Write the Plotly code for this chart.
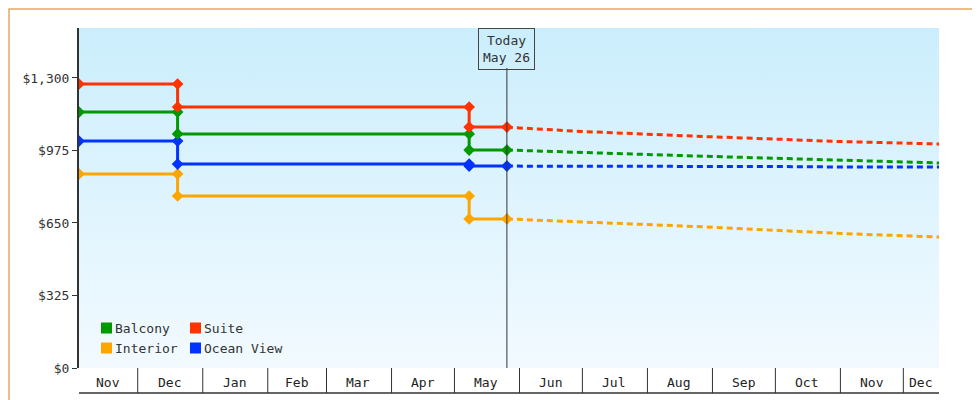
import plotly.graph_objects as go
import datetime as dt

names = ["Balcony", "Suite", "Interior", "Ocean View"]
colors = {"Balcony": "#009900", "Suite": "#ff3300", "Interior": "#ffa500", "Ocean View": "#0033ff"}

hist_dates = ["2024-11-03", "2024-12-20", "2024-12-20", "2025-05-08", "2025-05-08", "2025-05-26"]
hist_vals = {
    "Suite":      [1273, 1273, 1170, 1170, 1080, 1080],
    "Balcony":    [1147, 1147, 1049, 1049, 977, 977],
    "Ocean View": [1017, 1017, 914, 914, 905, 905],
    "Interior":   [870, 870, 771, 771, 668, 668],
}
fc_dates = ["2025-05-26", "2025-06-01", "2025-07-01", "2025-08-01", "2025-09-01", "2025-10-01", "2025-11-01", "2025-12-18"]
fc_vals = {
    "Suite":      [1080, 1076, 1060, 1047, 1036, 1026, 1015, 1004],
    "Balcony":    [977, 975, 966, 957, 948, 940, 930, 919],
    "Ocean View": [905, 905, 904, 904, 904, 903, 901, 901],
    "Interior":   [668, 666, 655, 643, 631, 618, 603, 587],
}
months = ["Nov", "Dec", "Jan", "Feb", "Mar", "Apr", "May", "Jun", "Jul", "Aug", "Sep", "Oct", "Nov", "Dec"]
month_starts = ["2024-11-03", "2024-12-01", "2025-01-01", "2025-02-01", "2025-03-01", "2025-04-01", "2025-05-01",
                "2025-06-01", "2025-07-01", "2025-08-01", "2025-09-01", "2025-10-01", "2025-11-01", "2025-12-01", "2025-12-18"]
yticks = [0, 325, 650, 975, 1300]
ytext = ["$0", "$325", "$650", "$975", "$1,300"]
today = "2025-05-26"

fig = go.Figure()
for n in ["Interior", "Ocean View", "Balcony", "Suite"]:
    fig.add_trace(go.Scatter(x=fc_dates, y=fc_vals[n], mode="lines", line=dict(color=colors[n], width=3, dash="6px,4px"),
                             showlegend=False, hoverinfo="skip"))
    fig.add_trace(go.Scatter(x=hist_dates, y=hist_vals[n], mode="lines+markers", line=dict(color=colors[n], width=3),
                             marker=dict(symbol="diamond", size=9, color=colors[n]), showlegend=False))

svg = ("data:image/svg+xml;utf8,<svg xmlns='http://www.w3.org/2000/svg' width='10' height='100' preserveAspectRatio='none'>"
       "<defs><linearGradient id='g' x1='0' y1='0' x2='0' y2='1'><stop offset='0' stop-color='%23cbeefc'/>"
       "<stop offset='1' stop-color='%23f2faff'/></linearGradient></defs><rect width='10' height='100' fill='url(%23g)'/></svg>")

shapes = []
annotations = []
L, R, T, B = 71, 49, 20, 40
W, H = 980 - L - R, 400 - T - B
yb = -25 / H
shapes.append(dict(type="line", xref="paper", yref="paper", x0=0, x1=1, y0=yb, y1=yb, line=dict(color="#333", width=1.5)))
for d in month_starts[1:-1]:
    shapes.append(dict(type="line", xref="x", yref="paper", x0=d, x1=d, y0=0, y1=yb, line=dict(color="#333", width=1)))
for i, m in enumerate(months):
    a = dt.date.fromisoformat(month_starts[i]); b = dt.date.fromisoformat(month_starts[i + 1])
    mid = a + (b - a) / 2
    annotations.append(dict(x=mid.isoformat(), y=-14 / H, xref="x", yref="paper", yanchor="middle", text=m, showarrow=False,
                            font=dict(size=13, color="#222")))
shapes.append(dict(type="line", xref="x", yref="paper", x0=today, x1=today, y0=0, y1=(H - 40) / H, line=dict(color="#333", width=1)))
annotations.append(dict(x=today, y=1, xref="x", yref="paper", yanchor="top", text="Today<br>May 26", showarrow=False,
                        bordercolor="#444", borderwidth=1, bgcolor="rgba(0,0,0,0)", borderpad=4, font=dict(size=13, color="#333")))
leg = [("Balcony", 93, 320), ("Suite", 182, 320), ("Interior", 93, 340), ("Ocean View", 182, 340)]
for n, px, py in leg:
    x0 = (px - L) / W; y0 = (400 - B - py) / H
    shapes.append(dict(type="rect", xref="paper", yref="paper", x0=x0, x1=x0 + 11 / W, y0=y0 - 5.5 / H, y1=y0 + 5.5 / H,
                       fillcolor=colors[n], line=dict(width=0)))
    annotations.append(dict(x=x0 + 12 / W, y=y0, xref="paper", yref="paper", xanchor="left", yanchor="middle", text=n,
                            showarrow=False, font=dict(size=13, color="#333")))
shapes.append(dict(type="rect", xref="paper", yref="paper", x0=-(L - 1) / W, x1=1 + (R - 1) / W, y0=-(B - 1) / H, y1=1 + (T - 1) / H,
                   line=dict(color="#e8a860", width=1.5)))

fig.update_layout(
    width=980, height=400, margin=dict(l=L, r=R, t=T, b=B, autoexpand=False),
    paper_bgcolor="white", plot_bgcolor="#e0f5fd",
    font=dict(family="DejaVu Sans Mono", size=13, color="#333"),
    images=[dict(source=svg, xref="paper", yref="paper", x=0, y=1, sizex=1, sizey=1, sizing="stretch", layer="below",
                 xanchor="left", yanchor="top")],
    xaxis=dict(range=["2024-11-03", "2025-12-18"], showticklabels=False, showgrid=False, zeroline=False, ticks=""),
    yaxis=dict(range=[0, 1524], tickvals=yticks, ticktext=ytext, showgrid=False, zeroline=False, ticks="outside", ticklen=5,
               tickcolor="#333", showline=True, linecolor="#333", linewidth=2),
    shapes=shapes, annotations=annotations, showlegend=False,
)
fig.write_html("out.html")
